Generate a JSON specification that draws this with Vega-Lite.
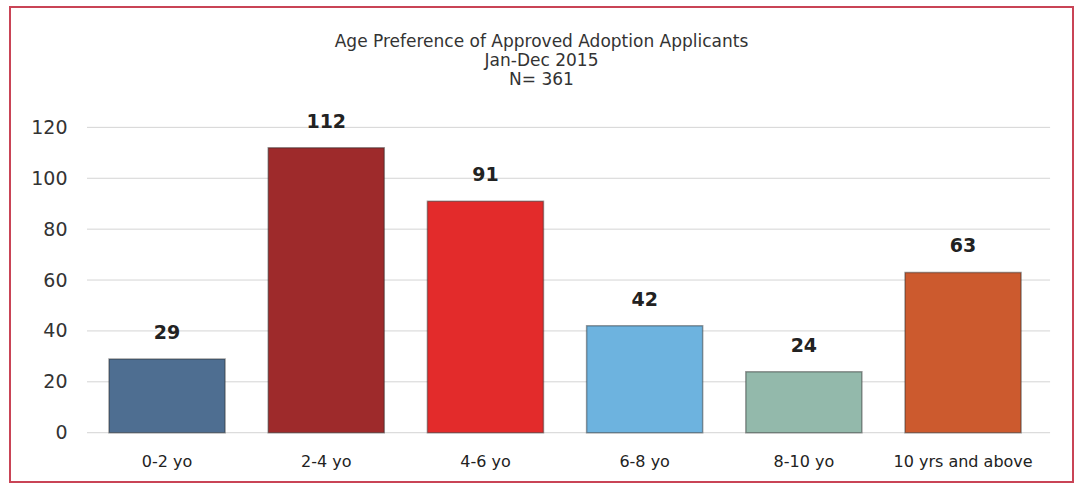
{
  "$schema": "https://vega.github.io/schema/vega-lite/v6.json",
  "width": 1063,
  "height": 475,
  "autosize": {"type": "none"},
  "padding": {"left": 10, "top": 7, "right": 3, "bottom": 2},
  "background": "white",
  "config": {
    "view": {"stroke": "#c94456", "strokeWidth": 2},
    "font": "DejaVu Sans"
  },
  "title": {
    "text": ["Age Preference of Approved Adoption Applicants", "Jan-Dec 2015", "N= 361"],
    "fontSize": 17,
    "fontWeight": "normal",
    "color": "#333333",
    "baseline": "top",
    "offset": -82,
    "lineHeight": 19,
    "anchor": "middle",
    "frame": "group"
  },
  "datasets": {
    "bars": [
      {"age": "0-2 yo", "count": 29},
      {"age": "2-4 yo", "count": 112},
      {"age": "4-6 yo", "count": 91},
      {"age": "6-8 yo", "count": 42},
      {"age": "8-10 yo", "count": 24},
      {"age": "10 yrs and above", "count": 63}
    ],
    "grid": [
      {"v": 0, "from": "0-2 yo", "to": "10 yrs and above"},
      {"v": 20, "from": "0-2 yo", "to": "10 yrs and above"},
      {"v": 40, "from": "0-2 yo", "to": "10 yrs and above"},
      {"v": 60, "from": "0-2 yo", "to": "10 yrs and above"},
      {"v": 80, "from": "0-2 yo", "to": "10 yrs and above"},
      {"v": 100, "from": "0-2 yo", "to": "10 yrs and above"},
      {"v": 120, "from": "0-2 yo", "to": "10 yrs and above"}
    ]
  },
  "layer": [
    {
      "data": {"name": "grid"},
      "mark": {"type": "rule", "color": "#d4d4d4", "strokeWidth": 1, "xOffset": -22, "x2Offset": 29},
      "encoding": {
        "x": {
          "field": "from",
          "type": "nominal",
          "bandPosition": 0,
          "axis": {
            "title": null,
            "orient": "bottom",
            "bandPosition": 0.5,
            "offset": -29,
            "domain": false,
            "ticks": false,
            "labelPadding": 0,
            "labelAngle": 0,
            "labelAlign": "center",
            "labelBaseline": "top",
            "labelFontSize": 16,
            "labelColor": "#222222",
            "labelOverlap": false,
            "labelBound": false,
            "grid": false
          }
        },
        "x2": {"field": "to", "bandPosition": 1},
        "y": {
          "field": "v",
          "type": "quantitative",
          "axis": {
            "title": null,
            "orient": "left",
            "offset": -57,
            "values": [0, 20, 40, 60, 80, 100, 120],
            "domain": false,
            "ticks": false,
            "grid": false,
            "labelPadding": 0,
            "labelFontSize": 19,
            "labelColor": "#333333"
          }
        }
      }
    },
    {
      "data": {"name": "bars"},
      "mark": {"type": "bar", "stroke": "#2a2a2a", "strokeOpacity": 0.45, "strokeWidth": 1.5},
      "encoding": {
        "x": {
          "field": "age",
          "type": "nominal",
          "sort": null,
          "scale": {
            "domain": ["0-2 yo", "2-4 yo", "4-6 yo", "6-8 yo", "8-10 yo", "10 yrs and above"],
            "paddingInner": 0.271,
            "paddingOuter": 0.474,
            "align": 0.656
          },
          "axis": {
            "title": null,
            "orient": "bottom",
            "bandPosition": 0.5,
            "offset": -29,
            "domain": false,
            "ticks": false,
            "labelPadding": 0,
            "labelAngle": 0,
            "labelAlign": "center",
            "labelBaseline": "top",
            "labelFontSize": 16,
            "labelColor": "#222222",
            "labelOverlap": false,
            "labelBound": false,
            "grid": false
          }
        },
        "y": {
          "field": "count",
          "type": "quantitative",
          "scale": {"domain": [-19.37, 167.3], "nice": false, "zero": false},
          "axis": {
            "title": null,
            "orient": "left",
            "offset": -57,
            "values": [0, 20, 40, 60, 80, 100, 120],
            "domain": false,
            "ticks": false,
            "grid": false,
            "labelPadding": 0,
            "labelFontSize": 19,
            "labelColor": "#333333"
          }
        },
        "y2": {"datum": 0},
        "color": {
          "field": "age",
          "type": "nominal",
          "scale": {
            "domain": ["0-2 yo", "2-4 yo", "4-6 yo", "6-8 yo", "8-10 yo", "10 yrs and above"],
            "range": ["#4e6e91", "#9e2a2b", "#e32b2b", "#6db3df", "#93b9ab", "#cc5a2e"]
          },
          "legend": null
        }
      }
    },
    {
      "data": {"name": "bars"},
      "mark": {"type": "text", "fontWeight": "bold", "fontSize": 19, "color": "#222222", "baseline": "middle", "dy": -26},
      "encoding": {
        "x": {"field": "age", "type": "nominal"},
        "y": {"field": "count", "type": "quantitative"},
        "text": {"field": "count", "type": "quantitative"}
      }
    }
  ]
}
